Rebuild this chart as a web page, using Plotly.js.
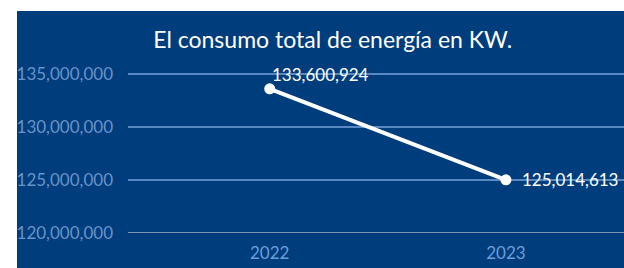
<!DOCTYPE html>
<html><head><meta charset="utf-8">
<script src="https://cdn.plot.ly/plotly-3.0.1.min.js"></script>
<style>
html,body{margin:0;padding:0;background:#ffffff;width:624px;height:268px;overflow:hidden}
#chart{position:absolute;left:17px;top:11px;width:607px;height:257px}
</style></head>
<body><div id="chart"></div>
<script>
const years = ['2022', '2023'];
const consumo = [133600924, 125014613];
const etiquetas = ['133,600,924', '125,014,613'];
const yTicks = [120000000, 125000000, 130000000, 135000000];
const yTickText = ['120,000,000', '125,000,000', '130,000,000', '135,000,000'];

const trace = {
  x: years, y: consumo, type: 'scatter', mode: 'lines+markers',
  line: {color: '#ffffff', width: 4},
  marker: {color: '#ffffff', size: 11},
  cliponaxis: false, hoverinfo: 'skip'
};
const labelStyle = [
  {xanchor: 'left', yanchor: 'bottom', xshift: 0, yshift: 2},
  {xanchor: 'left', yanchor: 'middle', xshift: 14, yshift: 0}
];
const annotations = years.map((yr, i) => Object.assign({
  x: i, y: consumo[i], xref: 'x', yref: 'y', text: etiquetas[i], showarrow: false,
  font: {family: 'Lato, sans-serif', size: 17, color: '#ffffff'}
}, labelStyle[i]));

const layout = {
  width: 607, height: 257,
  paper_bgcolor: '#003d7d', plot_bgcolor: '#003d7d',
  margin: {l: 111, r: 0, t: 49, b: 35},
  showlegend: false,
  title: {text: 'El consumo total de energía en KW.', xref: 'container', x: 0.52, xanchor: 'center', y: 1, yref: 'paper', yanchor: 'bottom', pad: {b: 12},
    font: {family: 'Lato, sans-serif', size: 23, color: '#ffffff'}},
  xaxis: {type: 'category', range: [-0.6, 1.5], showgrid: false, zeroline: false, showline: false,
    ticks: '', ticklabelstandoff: 8,
    tickfont: {family: 'Lato, sans-serif', size: 17, color: '#6c9dd8'}},
  yaxis: {range: [120000000, 136320000], tickvals: yTicks, ticktext: yTickText,
    showgrid: true, gridcolor: '#5a88c0', gridwidth: 1.3, zeroline: false,
    showline: false, ticks: '', ticklabelstandoff: 14,
    tickfont: {family: 'Lato, sans-serif', size: 17, color: '#6893c8'}},
  annotations: annotations,
  shapes: [{type: 'line', xref: 'paper', yref: 'y', x0: 0, x1: 1, y0: 120000000, y1: 120000000,
    line: {color: '#a8b3c2', width: 1.5}}]
};
Plotly.newPlot('chart', [trace], layout, {staticPlot: true, displayModeBar: false});
</script></body></html>
